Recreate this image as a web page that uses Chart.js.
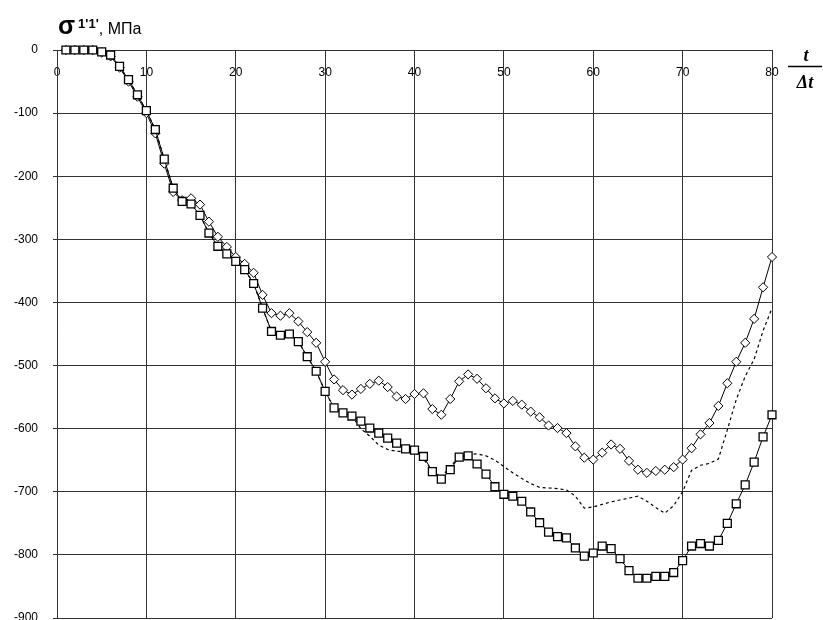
<!DOCTYPE html>
<html>
<head>
<meta charset="utf-8">
<script src="https://cdn.jsdelivr.net/npm/chart.js@4.4.1/dist/chart.umd.min.js"></script>
<style>
  html, body { margin: 0; padding: 0; background: #fff; }
  #wrap { position: relative; width: 823px; height: 620px; }
</style>
</head>
<body>
<div id="wrap"><canvas id="stressChart"></canvas></div>
<script>
// time step t/Δt
const steps = [1,2,3,4,5,6,7,8,9,10,11,12,13,14,15,16,17,18,19,20,
  21,22,23,24,25,26,27,28,29,30,31,32,33,34,35,36,37,38,39,40,
  41,42,43,44,45,46,47,48,49,50,51,52,53,54,55,56,57,58,59,60,
  61,62,63,64,65,66,67,68,69,70,71,72,73,74,75,76,77,78,79,80];

// σ1'1', MPa — square markers
const squareSeries = [0,0,0,0,-3,-8,-26,-47,-71,-96,-126,-173,-219,-240,-244,-262,-290,-311,-323,-335,
  -348,-370,-409,-446,-452,-450,-462,-486,-509,-541,-567,-575,-580,-588,-599,-607,-615,-623,-632,-634,
  -644,-668,-680,-665,-645,-643,-656,-672,-692,-704,-707,-715,-732,-749,-764,-771,-773,-789,-802,-797,
  -786,-790,-806,-825,-837,-837,-834,-834,-828,-809,-786,-782,-786,-777,-750,-719,-689,-653,-613,-578];

// diamond markers
const diamondSeries = [0,0,0,0,-4,-10,-28,-50,-74,-100,-132,-180,-225,-238,-235,-245,-272,-296,-312,-328,
  -339,-353,-388,-417,-421,-417,-430,-447,-464,-494,-522,-539,-546,-537,-529,-524,-534,-549,-553,-545,
  -544,-569,-578,-553,-525,-514,-521,-536,-552,-560,-556,-562,-573,-582,-595,-599,-607,-628,-646,-649,
  -638,-625,-632,-651,-665,-670,-667,-665,-661,-649,-631,-609,-591,-564,-528,-494,-464,-426,-376,-328];

// dotted line, no markers
const dottedSeries = [0,0,0,0,-3,-8,-26,-47,-71,-96,-126,-173,-219,-240,-244,-262,-290,-311,-323,-335,
  -348,-370,-409,-446,-452,-450,-462,-486,-509,-541,-567,-575,-580,-600,-612,-626,-633,-636,-636,-637,
  -648,-667,-677,-660,-645,-641,-640,-643,-650,-660,-670,-679,-687,-693,-694,-695,-697,-707,-726,-724,
  -720,-716,-713,-710,-707,-715,-725,-734,-722,-700,-666,-658,-655,-648,-602,-554,-517,-490,-445,-409];

const xTicks = [0,10,20,30,40,50,60,70,80];
const yTicks = [0,-100,-200,-300,-400,-500,-600,-700,-800,-900];

const GRID = "#333";
const FONT = '"Liberation Sans", Arial, sans-serif';

function toPoints(values){
  return steps.map((s, i) => ({ x: s, y: values[i] }));
}

const notesPlugin = {
  id: "notes",
  afterDraw(chart){
    const ctx = chart.ctx;
    const area = chart.chartArea;
    ctx.save();
    ctx.fillStyle = "#000";
    ctx.textBaseline = "alphabetic";
    ctx.textAlign = "left";

    // y axis title
    let x = area.left + 1;
    ctx.font = `bold 25px ${FONT}`;
    ctx.fillText("σ", x, 34);
    x += ctx.measureText("σ").width + 3;
    ctx.font = `bold 13px ${FONT}`;
    ctx.fillText("1'1'", x, 28);
    x += ctx.measureText("1'1'").width;
    ctx.font = `16px ${FONT}`;
    ctx.fillText(", МПа", x, 34);

    // x axis title t / Δt
    ctx.font = 'bold italic 18px "Liberation Serif", "Times New Roman", serif';
    ctx.textAlign = "center";
    ctx.fillText("t", 806, 61);
    ctx.fillText("Δt", 805, 88);
    ctx.strokeStyle = "#000";
    ctx.lineWidth = 1.3;
    ctx.beginPath();
    ctx.moveTo(788, 66.5);
    ctx.lineTo(822, 66.5);
    ctx.stroke();
    ctx.restore();
  }
};

new Chart(document.getElementById("stressChart"), {
  type: "line",
  data: {
    datasets: [
      {
        label: "squares",
        data: toPoints(squareSeries),
        borderColor: "#000",
        borderWidth: 1,
        pointStyle: "rect",
        pointRadius: 5.6,
        pointBorderWidth: 1.3,
        pointBackgroundColor: "#fff",
        pointBorderColor: "#000",
        tension: 0,
        clip: false,
        order: 0
      },
      {
        label: "diamonds",
        data: toPoints(diamondSeries),
        borderColor: "#000",
        borderWidth: 1,
        pointStyle: "rectRot",
        pointRadius: 4.6,
        pointBorderWidth: 1,
        pointBackgroundColor: "#fff",
        pointBorderColor: "#000",
        tension: 0,
        clip: false,
        order: 1
      },
      {
        label: "dotted",
        data: toPoints(dottedSeries),
        borderColor: "#000",
        borderWidth: 1.2,
        borderDash: [3, 3],
        pointRadius: 0,
        tension: 0,
        clip: false,
        order: 2
      }
    ]
  },
  options: {
    responsive: true,
    maintainAspectRatio: false,
    animation: false,
    layout: { autoPadding: false, padding: { top: 50, right: 51, bottom: 2, left: 0 } },
    plugins: {
      legend: { display: false },
      tooltip: { enabled: false }
    },
    scales: {
      x: {
        type: "linear",
        position: { y: 0 },
        min: 0,
        max: 80,
        afterBuildTicks: (s) => { s.ticks = xTicks.map((v) => ({ value: v })); },
        grid: { color: GRID, lineWidth: 1, drawTicks: false },
        border: { color: GRID, width: 1 },
        ticks: { color: "#000", font: { family: FONT, size: 12 }, padding: 15, maxRotation: 0, autoSkip: false }
      },
      y: {
        type: "linear",
        position: "left",
        min: -900,
        max: 0,
        afterBuildTicks: (s) => { s.ticks = yTicks.map((v) => ({ value: v })); },
        afterFit: (s) => { s.width = 57; s.paddingTop = 0; s.paddingBottom = 0; },
        grid: { color: GRID, lineWidth: 1, tickLength: 4 },
        border: { color: GRID, width: 1 },
        ticks: { color: "#000", font: { family: FONT, size: 12 }, padding: 15, autoSkip: false }
      }
    }
  },
  plugins: [notesPlugin]
});
</script>
</body>
</html>
